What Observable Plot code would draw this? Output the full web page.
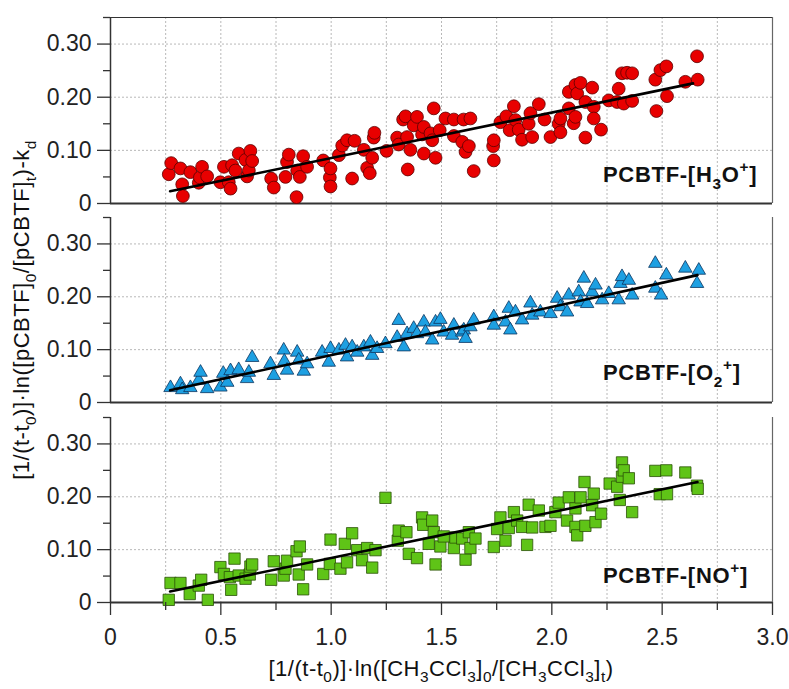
<!DOCTYPE html>
<html><head><meta charset="utf-8">
<script src="https://cdn.jsdelivr.net/npm/d3@7"></script>
<script src="https://cdn.jsdelivr.net/npm/@observablehq/plot@0.6"></script>
<style>
body{margin:0;background:#fff;}
#wrap{position:relative;width:789px;height:689px;font-family:"Liberation Sans",Arial,sans-serif;}
#wrap svg{position:absolute;left:0;top:0;overflow:visible;background:transparent;}
</style></head><body><div id="wrap"></div>
<script>
// ---------- data ----------
const h3oX = [0.264,0.275,0.317,0.325,0.328,0.362,0.400,0.405,0.415,0.438,0.498,0.514,0.536,0.544,0.551,0.566,0.581,0.612,0.619,0.627,0.634,0.642,0.728,0.740,0.793,0.800,0.808,0.843,0.846,0.858,0.873,0.891,0.964,0.994,0.997,0.997,1.035,1.050,1.072,1.095,1.106,1.148,1.163,1.175,1.186,1.193,1.196,1.251,1.299,1.306,1.326,1.337,1.344,1.347,1.359,1.374,1.389,1.412,1.420,1.420,1.450,1.458,1.465,1.473,1.492,1.518,1.556,1.556,1.600,1.594,1.609,1.624,1.631,1.646,1.734,1.737,1.737,1.767,1.794,1.809,1.828,1.835,1.850,1.865,1.895,1.903,1.911,1.941,1.967,1.994,2.031,2.039,2.039,2.077,2.077,2.099,2.107,2.107,2.115,2.130,2.152,2.152,2.183,2.190,2.190,2.223,2.258,2.296,2.303,2.318,2.326,2.341,2.364,2.364,2.469,2.474,2.492,2.519,2.522,2.605,2.658,2.661];
const h3oY = [0.055,0.076,0.066,0.036,0.014,0.059,0.039,0.049,0.069,0.051,0.040,0.069,0.040,0.028,0.072,0.062,0.094,0.082,0.051,0.062,0.099,0.080,0.047,0.030,0.050,0.078,0.092,0.012,0.062,0.050,0.089,0.069,0.081,0.049,0.066,0.032,0.091,0.109,0.119,0.047,0.118,0.101,0.067,0.057,0.086,0.124,0.133,0.099,0.124,0.111,0.158,0.164,0.125,0.064,0.101,0.147,0.163,0.130,0.144,0.094,0.132,0.119,0.179,0.086,0.138,0.160,0.158,0.127,0.158,0.116,0.097,0.108,0.160,0.061,0.108,0.119,0.081,0.153,0.164,0.138,0.183,0.157,0.139,0.120,0.150,0.170,0.125,0.187,0.158,0.125,0.150,0.134,0.160,0.210,0.179,0.151,0.223,0.163,0.207,0.227,0.124,0.191,0.218,0.182,0.160,0.139,0.194,0.191,0.216,0.245,0.188,0.246,0.245,0.193,0.233,0.174,0.251,0.258,0.202,0.229,0.277,0.233];

const o2X = [0.272,0.317,0.325,0.362,0.400,0.408,0.438,0.498,0.511,0.529,0.544,0.581,0.619,0.627,0.642,0.725,0.740,0.785,0.788,0.800,0.846,0.853,0.876,0.891,0.959,0.989,0.997,1.035,1.065,1.072,1.095,1.118,1.148,1.178,1.186,1.208,1.246,1.299,1.306,1.329,1.344,1.374,1.389,1.420,1.427,1.458,1.473,1.495,1.510,1.548,1.556,1.594,1.601,1.609,1.631,1.646,1.737,1.737,1.790,1.805,1.812,1.835,1.865,1.903,1.911,1.948,1.994,2.024,2.039,2.069,2.077,2.122,2.130,2.145,2.160,2.183,2.198,2.228,2.258,2.303,2.311,2.318,2.349,2.364,2.469,2.469,2.495,2.519,2.605,2.666,2.658];
const o2Y = [0.028,0.035,0.024,0.028,0.042,0.057,0.026,0.029,0.055,0.038,0.060,0.062,0.045,0.057,0.085,0.073,0.051,0.099,0.078,0.061,0.095,0.080,0.059,0.073,0.095,0.076,0.102,0.099,0.108,0.086,0.105,0.095,0.105,0.114,0.089,0.102,0.111,0.123,0.155,0.105,0.130,0.140,0.130,0.152,0.133,0.118,0.152,0.157,0.133,0.127,0.146,0.133,0.137,0.121,0.143,0.156,0.162,0.146,0.152,0.178,0.137,0.171,0.156,0.188,0.165,0.171,0.168,0.197,0.181,0.171,0.203,0.209,0.190,0.235,0.187,0.209,0.222,0.194,0.206,0.194,0.225,0.238,0.231,0.203,0.263,0.216,0.203,0.241,0.254,0.250,0.225];

const noX = [0.264,0.272,0.317,0.359,0.400,0.411,0.441,0.498,0.514,0.541,0.547,0.562,0.581,0.612,0.631,0.634,0.642,0.728,0.740,0.785,0.793,0.800,0.843,0.853,0.858,0.873,0.891,0.964,0.994,0.997,1.042,1.062,1.072,1.095,1.118,1.140,1.163,1.186,1.201,1.246,1.302,1.306,1.341,1.352,1.389,1.412,1.417,1.442,1.458,1.465,1.473,1.495,1.510,1.556,1.563,1.594,1.609,1.624,1.631,1.654,1.737,1.752,1.767,1.790,1.805,1.828,1.843,1.865,1.888,1.895,1.911,1.941,1.971,1.994,2.016,2.031,2.069,2.077,2.107,2.107,2.115,2.130,2.148,2.152,2.183,2.190,2.198,2.223,2.262,2.296,2.308,2.318,2.318,2.326,2.349,2.364,2.469,2.489,2.519,2.522,2.605,2.658,2.661];
const noY = [0.005,0.037,0.037,0.016,0.032,0.043,0.005,0.067,0.054,0.048,0.024,0.083,0.051,0.045,0.053,0.068,0.072,0.043,0.078,0.051,0.064,0.079,0.097,0.053,0.106,0.025,0.072,0.054,0.073,0.119,0.064,0.111,0.076,0.131,0.099,0.080,0.103,0.066,0.099,0.198,0.117,0.136,0.133,0.092,0.084,0.161,0.147,0.111,0.155,0.133,0.072,0.106,0.125,0.103,0.123,0.121,0.081,0.133,0.103,0.121,0.105,0.139,0.161,0.117,0.141,0.171,0.155,0.143,0.109,0.185,0.142,0.174,0.143,0.145,0.171,0.189,0.155,0.199,0.178,0.143,0.127,0.199,0.228,0.145,0.184,0.206,0.152,0.168,0.225,0.219,0.194,0.265,0.238,0.250,0.235,0.171,0.249,0.205,0.250,0.205,0.246,0.221,0.215];

// linear fit end points
const fitX = [0.27, 2.64];
const fitH3O = [0.023, 0.226];
const fitX2 = [0.27, 2.66];
const fitO2 = [0.023, 0.241];
const fitNO = [0.021, 0.228];

// ticks
const xMajor = [0, 0.5, 1.0, 1.5, 2.0, 2.5, 3.0];
const xMajorLabels = ["0", "0.5", "1.0", "1.5", "2.0", "2.5", "3.0"];
const xMinor = [0.25, 0.75, 1.25, 1.75, 2.25, 2.75];
const xGrid = [0.25, 0.5, 0.75, 1.0, 1.25, 1.5, 1.75, 2.0, 2.25, 2.5, 2.75];
const yMajor = [0, 0.1, 0.2, 0.3];
const yMajorLabels = ["0", "0.10", "0.20", "0.30"];
const yMinor = [0.05, 0.15, 0.25, 0.35];
const yGrid = [0.1, 0.2, 0.3];

// ---------- layout ----------
const W = 789, H = 689;
const wrap = document.getElementById("wrap");
const font = "Liberation Sans, Arial, sans-serif";
const baseStyle = {background: "transparent", overflow: "visible", fontFamily: font, fontSize: "22px", color: "#222"};
const gridStroke = "#b8b8b8";

// vertical grid layer spanning all panels
wrap.append(Plot.plot({
  width: W, height: H, marginLeft: 110, marginRight: 17, marginTop: 17, marginBottom: H - 602,
  style: baseStyle,
  x: {domain: [0, 3], axis: null},
  marks: [Plot.gridX(xGrid, {stroke: gridStroke, strokeOpacity: 1, strokeDasharray: "2,2"})]
}));

const panels = [
  {top: 17, bottom: 203, xs: h3oX, ys: h3oY, symbol: "circle", r: 6.4, fill: "#e80000", stroke: "#5a0000", fx: fitX, fy: fitH3O, topBorder: true, xAxis: false},
  {top: 217, bottom: 402, xs: o2X, ys: o2Y, symbol: "triangle", r: 5, fill: "#1ea0e2", stroke: "#0b3560", fx: fitX2, fy: fitO2, topBorder: false, xAxis: false},
  {top: 417, bottom: 602, xs: noX, ys: noY, symbol: "square", r: 6.4, fill: "#5fc417", stroke: "#2b5208", fx: fitX2, fy: fitNO, topBorder: false, xAxis: true}
];

for (const p of panels) {
  const marks = [
    Plot.gridY(yGrid, {stroke: gridStroke, strokeOpacity: 1, strokeDasharray: "2,2"}),
    Plot.axisY(yMajor, {tickSize: 13, tickPadding: 6, tickFormat: d => yMajorLabels[yMajor.indexOf(d)], label: null, fontSize: 23, stroke: "#333", strokeWidth: 1.3}),
    Plot.axisY(yMinor, {tickSize: 7, tickFormat: () => "", label: null, stroke: "#333", strokeWidth: 1.3}),
    Plot.ruleX([0], {stroke: "#333", strokeWidth: 1.5}),
    Plot.ruleX([3], {stroke: "#666", strokeWidth: 1.2}),
    Plot.ruleY([0], {stroke: "#333", strokeWidth: 2}),
    Plot.dot(p.xs, {x: p.xs, y: p.ys, symbol: p.symbol, r: p.r, fill: p.fill, stroke: p.stroke, strokeWidth: 0.8}),
    Plot.line(p.fx, {x: p.fx, y: p.fy, stroke: "#000", strokeWidth: 2.6})
  ];
  if (p.topBorder) marks.push(Plot.ruleY([0.35], {stroke: "#333", strokeWidth: 1.2}));
  if (p.xAxis) {
    marks.push(Plot.axisX(xMajor, {tickSize: 13, tickPadding: 13, tickFormat: d => xMajorLabels[xMajor.indexOf(d)], label: null, fontSize: 23, stroke: "#333", strokeWidth: 1.3}));
    marks.push(Plot.axisX(xMinor, {tickSize: 8, tickFormat: () => "", label: null, stroke: "#333", strokeWidth: 1.3}));
  }
  wrap.append(Plot.plot({
    width: W, height: H, marginLeft: 110, marginRight: 17, marginTop: p.top, marginBottom: H - p.bottom,
    style: baseStyle,
    x: {domain: [0, 3], axis: p.xAxis ? undefined : null},
    y: {domain: [0, 0.35]},
    marks
  }));
}

// ---------- text overlay ----------
const svg = d3.select(wrap).append("svg").attr("width", W).attr("height", H)
  .attr("font-family", font).attr("fill", "#111");

function addRich(x, y, parts, {size = 22, weight = "normal", anchor = "start", rotate = 0, spacing = 0, subShift = 0.3} = {}) {
  const t = svg.append("text").attr("x", x).attr("y", y).attr("font-size", size)
    .attr("font-weight", weight).attr("text-anchor", anchor).attr("letter-spacing", spacing);
  if (rotate) t.attr("transform", `rotate(${rotate},${x},${y})`);
  let shift = 0;
  for (const [s, k] of parts) {
    const target = k === "sub" ? subShift * size : k === "sup" ? -0.45 * size : 0;
    t.append("tspan").attr("dy", target - shift).attr("font-size", k === "n" ? size : 0.7 * size).text(s);
    shift = target;
  }
}

addRich(441, 676, [["[1/(t-t","n"],["0","sub"],[")]·ln([CH","n"],["3","sub"],["CCl","n"],["3","sub"],["]","n"],["0","sub"],["/[CH","n"],["3","sub"],["CCl","n"],["3","sub"],["]","n"],["t","sub"],[")","n"]], {anchor: "middle", spacing: 0.5, subShift: 0.25});
addRich(29, 310, [["[1/(t-t","n"],["0","sub"],[")]·ln([pCBTF]","n"],["0","sub"],["/[pCBTF]","n"],["t","sub"],[")-k","n"],["d","sub"]], {anchor: "middle", rotate: -90, spacing: 0.5});

addRich(603, 182, [["PCBTF-[H","n"],["3","sub"],["O","n"],["+","sup"],["]","n"]], {weight: "bold", spacing: 0.7});
addRich(603, 380, [["PCBTF-[O","n"],["2","sub"],["+","sup"],["]","n"]], {weight: "bold", spacing: 0.7});
addRich(603, 583, [["PCBTF-[NO","n"],["+","sup"],["]","n"]], {weight: "bold", spacing: 0.7});
</script>
</body></html>
